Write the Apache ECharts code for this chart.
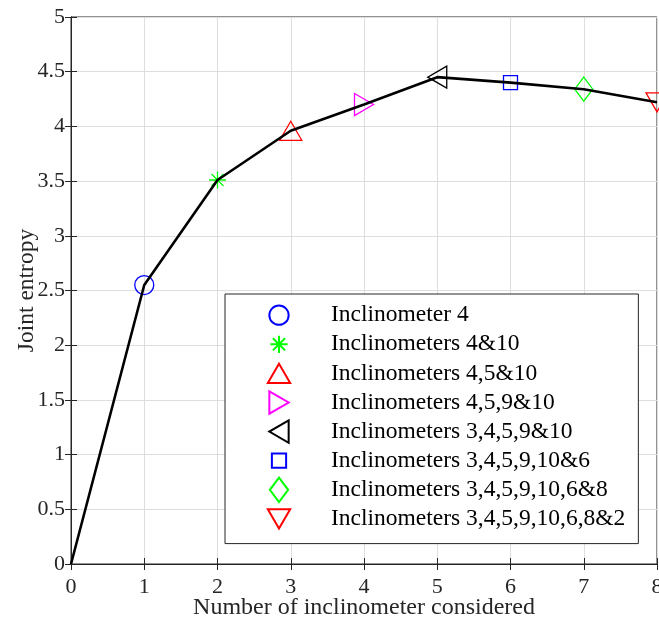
<!DOCTYPE html>
<html>
<head>
<meta charset="utf-8">
<script src="https://cdn.jsdelivr.net/npm/echarts@6/dist/echarts.min.js"></script>
<style>
html,body{margin:0;padding:0;background:#fff;}
#c{width:659px;height:620px;}
</style>
</head>
<body>
<div id="c"></div>
<script>
// ---- data ----
const xValues = [0, 1, 2, 3, 4, 5, 6, 7, 8];
const jointEntropy = [0, 2.55, 3.51, 3.96, 4.2, 4.45, 4.4, 4.34, 4.22];
const legendNames = [
  'Inclinometer 4',
  'Inclinometers 4&10',
  'Inclinometers 4,5&10',
  'Inclinometers 4,5,9&10',
  'Inclinometers 3,4,5,9&10',
  'Inclinometers 3,4,5,9,10&6',
  'Inclinometers 3,4,5,9,10,6&8',
  'Inclinometers 3,4,5,9,10,6,8&2'
];
const markerIndex = [1, 2, 3, 4, 5, 6, 7, 8];
const xTickValues = [0, 1, 2, 3, 4, 5, 6, 7, 8];
const yTickValues = [0, 0.5, 1, 1.5, 2, 2.5, 3, 3.5, 4, 4.5, 5];

// ---- styles ----
const PAD = 'M0,0L0,0M24,24L24,24';
const markerPaths = [
  'path://M21.5,12A9.5,9.5 0 1 1 2.5,12A9.5,9.5 0 1 1 21.5,12Z' + PAD,
  'path://M12,3.5L12,20.5M3.5,12L20.5,12M6,6L18,18M6,18L18,6' + PAD,
  'path://M12,2.5L23,21.5L1,21.5Z' + PAD,
  'path://M2.5,1L21.5,12L2.5,23Z' + PAD,
  'path://M21.5,1L2.5,12L21.5,23Z' + PAD,
  'path://M5,5L19,5L19,19L5,19Z' + PAD,
  'path://M12,0L21,12L12,24L3,12Z' + PAD,
  'path://M1,2.5L23,2.5L12,21.5Z' + PAD
];
const markerColors = ['#0000ff', '#00ff00', '#ff0000', '#ff00ff', '#000000', '#0000ff', '#00ff00', '#ff0000'];

const FONT = 'Liberation Serif';
const TXT = '#262626';

const series = [];
legendNames.forEach(function (name, k) {
  const i = markerIndex[k];
  series.push({
    name: name,
    type: 'line',
    data: [[xValues[i], jointEntropy[i]]],
    symbol: markerPaths[k],
    symbolSize: 24,
    showSymbol: true,
    clip: false,
    z: 2,
    lineStyle: { width: 0, opacity: 0 },
    itemStyle: { color: 'rgba(0,0,0,0)', borderColor: markerColors[k], borderWidth: 1.3 },
    emphasis: { disabled: true },
    silent: true
  });
});
series.push({
  name: 'curve',
  type: 'line',
  data: xValues.map(function (x, i) { return [x, jointEntropy[i]]; }),
  showSymbol: false,
  symbol: 'none',
  z: 3,
  lineStyle: { color: '#000000', width: 2.6 },
  emphasis: { disabled: true },
  silent: true
});

const axisCommon = {
  axisLine: { show: true, lineStyle: { color: TXT, width: 1 } },
  axisTick: { show: true, inside: true, length: 6, lineStyle: { color: TXT, width: 1 } },
  splitLine: { show: false }
};

const option = {
  animation: false,
  backgroundColor: '#ffffff',
  grid: { left: 71, right: 2, top: 17, bottom: 56, outerBoundsMode: 'none', containLabel: false,
          show: true, borderColor: TXT, borderWidth: 1, backgroundColor: '#ffffff' },
  legend: {
    data: legendNames,
    orient: 'vertical',
    left: 225,
    top: 294,
    padding: [8, 13, 11.5, 7],
    itemWidth: 94,
    itemHeight: 30.5,
    itemGap: 2.7,
    backgroundColor: '#ffffff',
    borderColor: TXT,
    borderWidth: 1,
    borderRadius: 0,
    selectedMode: false,
    textStyle: { fontFamily: FONT, fontSize: 23.5, color: '#000000' },
    lineStyle: { opacity: 0, width: 0 }
  },
  xAxis: [
    Object.assign({}, axisCommon, {
      type: 'value', position: 'bottom', min: xTickValues[0], max: xTickValues[xTickValues.length - 1], interval: 1,
      name: 'Number of inclinometer considered', nameLocation: 'middle', nameGap: 32, nameMoveOverlap: false,
      nameTextStyle: { fontFamily: FONT, fontSize: 24, color: TXT },
      axisLabel: { show: true, margin: 12, fontFamily: FONT, fontSize: 22, color: TXT },
      splitLine: { show: true, lineStyle: { color: '#dedede', width: 1 } }
    }),
    Object.assign({}, axisCommon, {
      type: 'value', position: 'top', min: xTickValues[0], max: xTickValues[xTickValues.length - 1], interval: 1,
      axisLabel: { show: false }
    })
  ],
  yAxis: [
    Object.assign({}, axisCommon, {
      type: 'value', position: 'left', min: yTickValues[0], max: yTickValues[yTickValues.length - 1], interval: 0.5,
      name: 'Joint entropy', nameLocation: 'middle', nameGap: 32, nameMoveOverlap: false,
      nameTextStyle: { fontFamily: FONT, fontSize: 23.5, color: TXT },
      axisLabel: { show: true, margin: 6, fontFamily: FONT, fontSize: 22, color: TXT },
      splitLine: { show: true, lineStyle: { color: '#dedede', width: 1 } }
    }),
    Object.assign({}, axisCommon, {
      type: 'value', position: 'right', min: yTickValues[0], max: yTickValues[yTickValues.length - 1], interval: 0.5,
      axisLabel: { show: false }
    })
  ],
  series: series
};

const chart = echarts.init(document.getElementById('c'), null, { renderer: 'canvas' });
chart.setOption(option);
</script>
</body>
</html>
